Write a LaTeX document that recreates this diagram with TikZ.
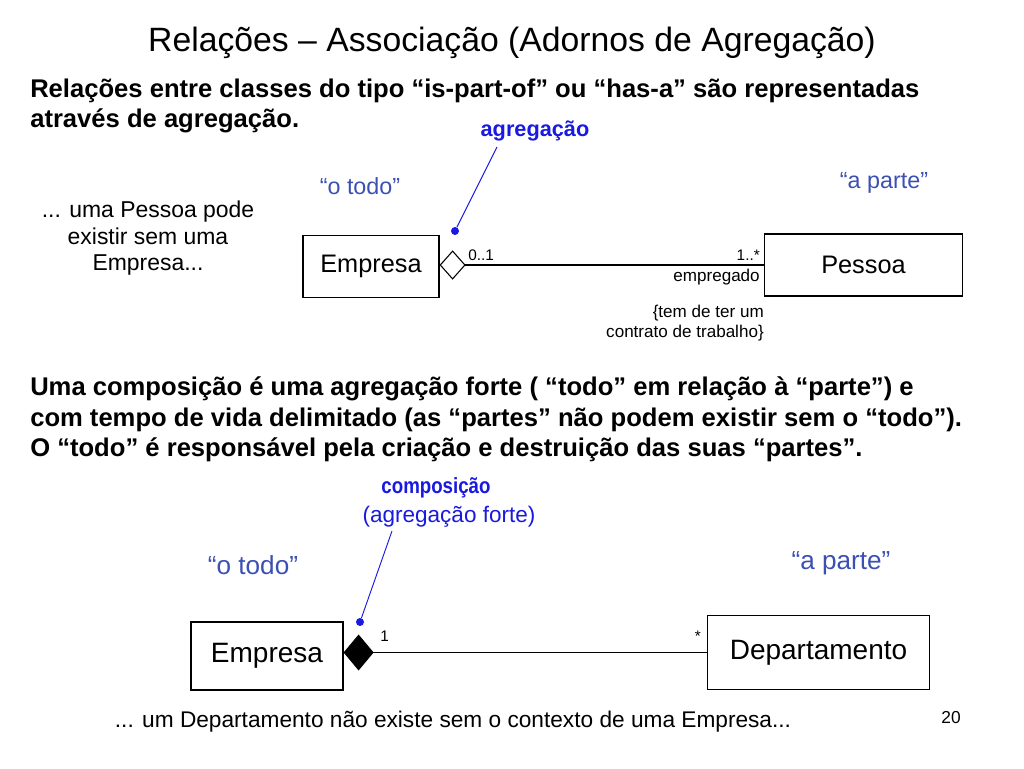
\documentclass[tikz,border=0pt]{standalone}
\usepackage{fontspec}
\setmainfont{Liberation Sans}
\newfontfamily\narrowsans[FakeStretch=0.85]{Liberation Sans}
\usetikzlibrary{arrows.meta,positioning}
\definecolor{noteblue}{RGB}{25,25,225}
\definecolor{roleblue}{RGB}{60,80,180}
\tikzset{
    classbox/.style={draw, line width=0.9pt, inner sep=0pt, font=\fontsize{19}{22}\selectfont},
    mult/.style={inner sep=0pt, font=\fontsize{11.5}{14}\selectfont},
    role/.style={inner sep=0pt, text=roleblue, font=\fontsize{17.5}{20}\selectfont},
    note/.style={inner sep=0pt, text=noteblue},
    notedot/.style={circle, fill=noteblue, inner sep=0pt, minimum size=6pt},
}

\begin{document}
\begin{tikzpicture}[x=0.75pt,y=-0.75pt]
    \useasboundingbox [fill=white] (0,0) rectangle (1024,768);
    % Slide texts:
    \node [inner sep=0pt, font=\fontsize{25.3}{30}\selectfont] (title) at (512,43)
        {Relações – Associação (Adornos de Agregação)};
    \node [anchor=west, align=left, inner sep=0pt, font=\bfseries\fontsize{19.2}{22.5}\selectfont] (intro) at (30,106)
        {Relações entre classes do tipo “is-part-of” ou “has-a” são representadas\\através de agregação.};
    \node [align=center, inner sep=0pt, font=\fontsize{17.2}{19.9}\selectfont] (pessoanote) at (148,238.5)
        {... uma Pessoa pode\\existir sem uma\\Empresa...};
    \node [anchor=west, align=left, inner sep=0pt, font=\bfseries\fontsize{19.2}{22.9}\selectfont] (compintro) at (30,419.5)
        {Uma composição é uma agregação forte ( “todo” em relação à “parte”) e\\com tempo de vida delimitado (as “partes” não podem existir sem o “todo”).\\O “todo” é responsável pela criação e destruição das suas “partes”.};
    \node [inner sep=0pt, font=\fontsize{17}{20}\selectfont] (deptnote) at (453,722)
        {... um Departamento não existe sem o contexto de uma Empresa...};
    \node [inner sep=0pt, font=\fontsize{13}{15}\selectfont] (pageno) at (951,718) {20};

    % Aggregation: Empresa <>---- Pessoa
    \node [classbox, minimum width=102pt, minimum height=46pt] (empresaA) at (371,266.5) {Empresa};
    \node [classbox, minimum width=148pt, minimum height=46.5pt] (pessoa) at (863.5,265) {Pessoa};
    \draw [line width=0.8pt, arrows={Diamond[open, length=19.5pt, width=22pt]-}] (empresaA.east |- pessoa.west) -- (pessoa.west);
    \node [mult, anchor=west] (multA) at (468,255) {0..1};
    \node [mult, anchor=east] (multB) at (760,255) {1..*};
    \node [mult, anchor=east, font=\fontsize{12.8}{15}\selectfont] (rolename) at (760,277) {empregado};
    \node [mult, anchor=east, align=right, font=\fontsize{12.8}{15}\selectfont] (constraint) at (764,323)
        {\{tem de ter um\\contrato de trabalho\}};
    \node [role] (todoA) at (360,186) {“o todo”};
    \node [role] (parteA) at (884,183) {“a parte”};
    \node [note, font=\bfseries\fontsize{16.3}{19}\selectfont] (agreg) at (535,131) {agregação};
    \node [notedot] (agregdot) at (455,231) {};
    \coordinate (agregfoot) at (497,147);
    \draw [noteblue, line width=0.7pt] (agregfoot) -- (agregdot);

    % Composition: Empresa <#>---- Departamento
    \node [classbox, font=\fontsize{21}{24}\selectfont, minimum width=114pt, minimum height=51pt] (empresaB) at (267,656) {Empresa};
    \node [classbox, font=\fontsize{21}{24}\selectfont, minimum width=166pt, minimum height=56pt] (depto) at (818.5,652.5) {Departamento};
    \draw [line width=0.8pt, arrows={Diamond[length=22.5pt, width=27pt]-}] (empresaB.east |- depto.west) -- (depto.west);
    \node [mult, anchor=west] (multC) at (380,636) {1};
    \node [mult, anchor=east] (multD) at (701,636) {*};
    \node [role, font=\fontsize{19.6}{22}\selectfont] (todoB) at (253,565) {“o todo”};
    \node [role, font=\fontsize{19.6}{22}\selectfont] (parteB) at (841,563) {“a parte”};
    \node [note, font=\narrowsans\bfseries\fontsize{16.5}{19}\selectfont] (comp) at (436,488) {composição};
    \node [note, font=\fontsize{16.9}{19}\selectfont] (compsub) at (449,517) {(agregação forte)};
    \node [notedot] (compdot) at (360,622) {};
    \coordinate (compfoot) at (392,531);
    \draw [noteblue, line width=0.7pt] (compfoot) -- (compdot);
\end{tikzpicture}
\end{document}
